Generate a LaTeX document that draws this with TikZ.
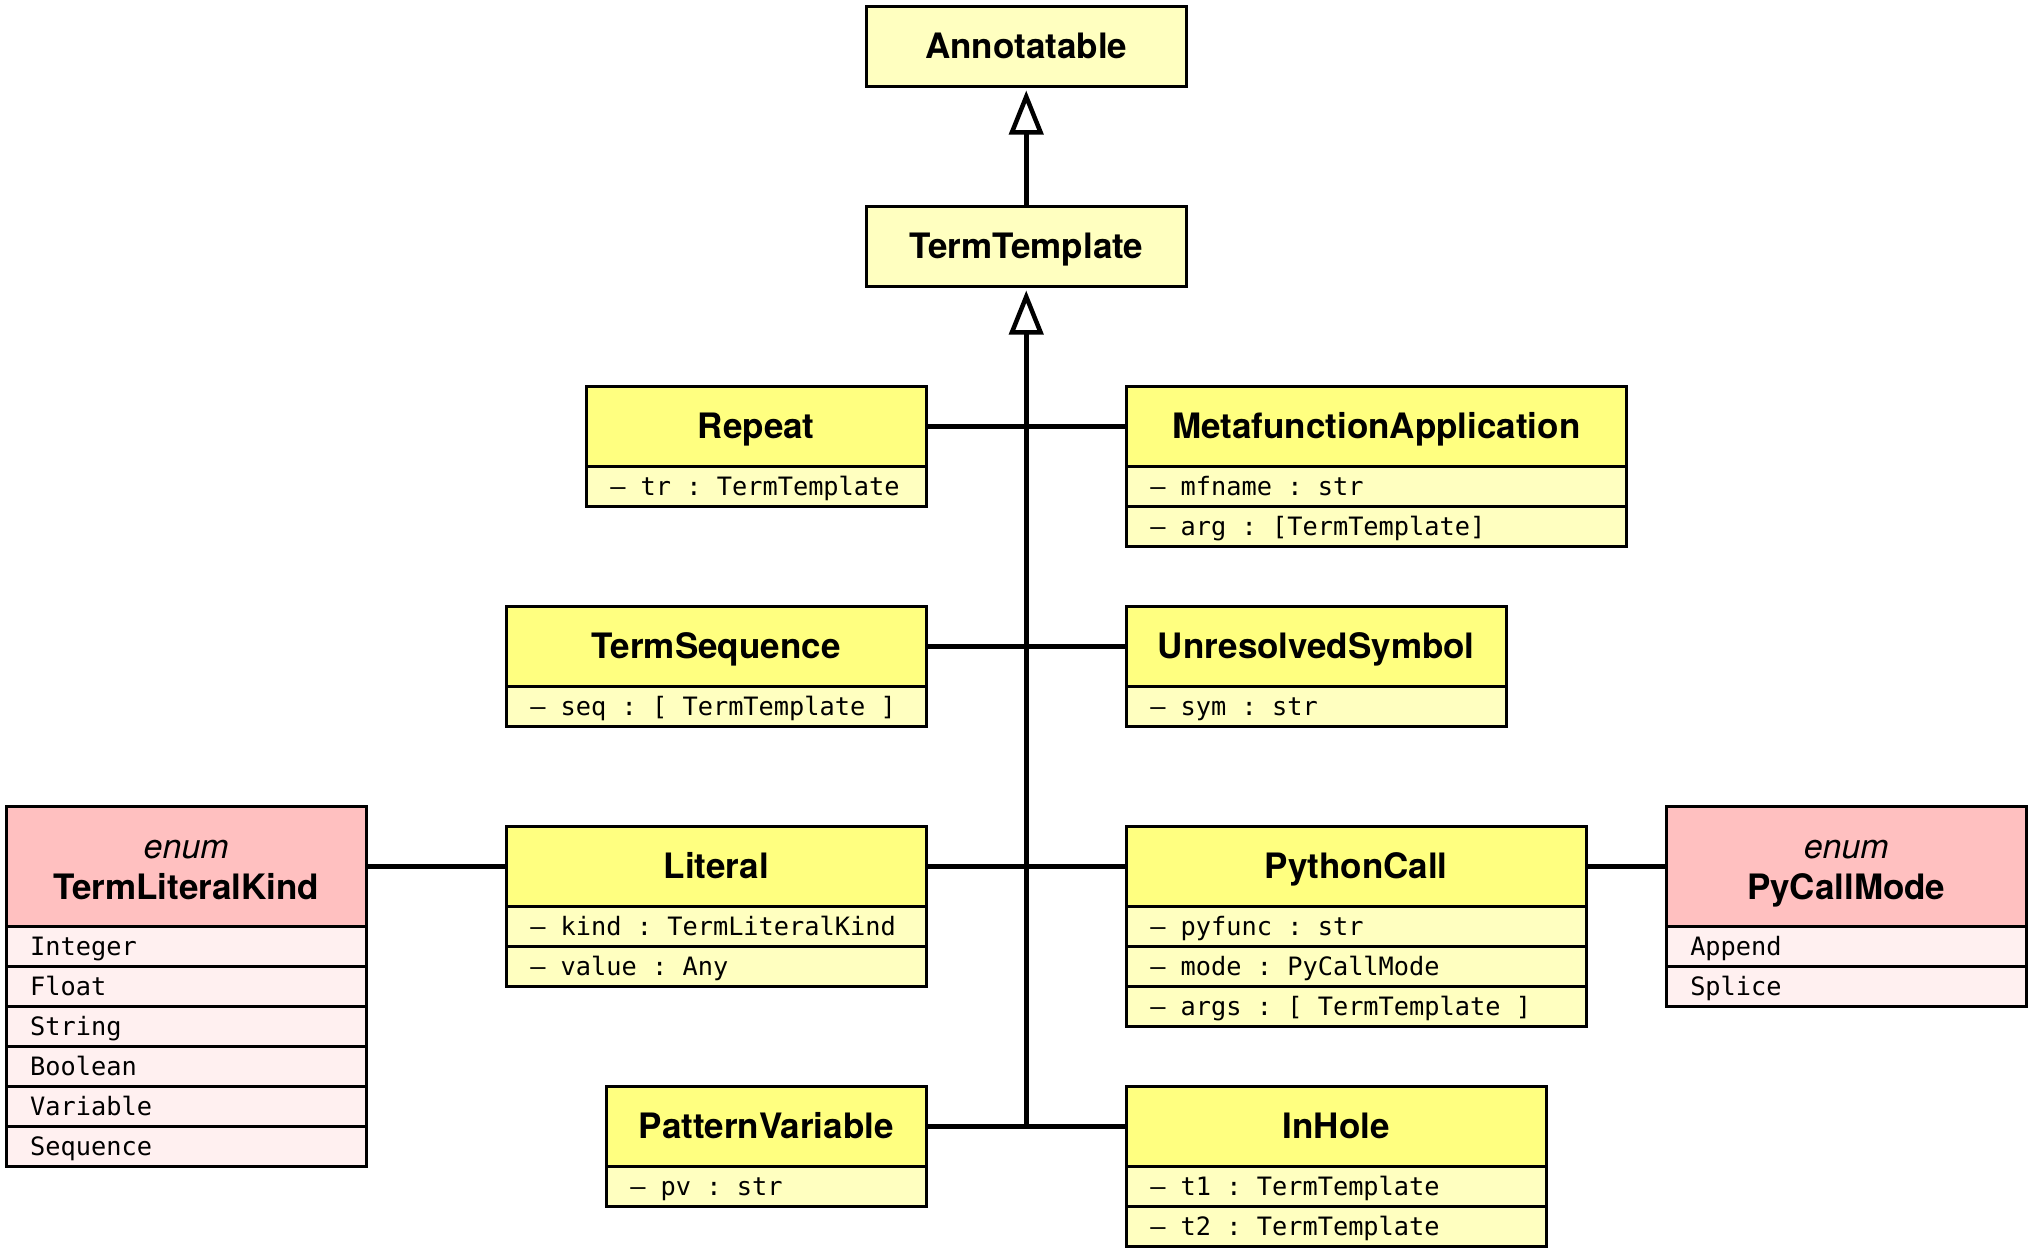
\documentclass[tikz,border=0pt]{standalone}
\usepackage{fontspec}
\setmainfont{TeX Gyre Heros}
\newfontfamily\monof{DejaVu Sans Mono}
\usetikzlibrary{arrows.meta}
\definecolor{hdry}{HTML}{FFFF80}
\definecolor{rowy}{HTML}{FFFFC0}
\definecolor{hdrp}{HTML}{FFC0C0}
\definecolor{rowp}{HTML}{FFF0F0}
\newcommand\monofont{\fontsize{25.3}{30}\selectfont\monof\frenchspacing}
\tikzset{
 box/.style={draw, line width=2.5pt, inner sep=0pt, anchor=north west, minimum width=#1},
 hdr/.style={box=#1, fill=hdry, minimum height=80pt, font=\fontsize{35}{40}\selectfont\bfseries, text height=24pt, text depth=0pt},
 basecls/.style={hdr=#1, fill=rowy},
 attr/.style={box=#1, fill=rowy, minimum height=40pt, font=\monofont, text width={#1-48pt}, inner xsep=24pt, inner ysep=0pt, align=flush left, text height=21pt, text depth=3pt},
 enumhdr/.style={box=#1, fill=hdrp, minimum height=120pt},
 enumrow/.style={attr=#1, fill=rowp},
 enumst/.style={anchor=base, font=\fontsize{34}{40}\selectfont\itshape},
 enumnm/.style={anchor=base, font=\fontsize{35}{40}\selectfont\bfseries},
 link/.style={line width=4.5pt, line cap=round},
 inh/.style={line width=4.5pt, -{Triangle[open, length=44pt, width=34pt, line width=4.5pt]}, shorten >=3pt}
}
\begin{document}
\begin{tikzpicture}[x=1pt, y=-1pt]
\fill[white] (0,0) rectangle (2030,1250);
\useasboundingbox (0,0) rectangle (2030,1250);

% top hierarchy
\node[basecls=320pt] (ann) at (865,5) {Annotatable};
\node[basecls=320pt] (tt) at (865,205) {TermTemplate};

% Repeat
\node[hdr=340pt] (rep) at (585,385) {Repeat};
\node[attr=340pt] (rep1) at (585,465) {– tr : TermTemplate};

% MetafunctionApplication
\node[hdr=500pt] (mfa) at (1125,385) {MetafunctionApplication};
\node[attr=500pt] (mfa1) at (1125,465) {– mfname : str};
\node[attr=500pt] (mfa2) at (1125,505) {– arg : [TermTemplate]};

% TermSequence
\node[hdr=420pt] (ts) at (505,605) {TermSequence};
\node[attr=420pt] (ts1) at (505,685) {– seq : [ TermTemplate ]};

% UnresolvedSymbol
\node[hdr=380pt] (us) at (1125,605) {UnresolvedSymbol};
\node[attr=380pt] (us1) at (1125,685) {– sym : str};

% Literal
\node[hdr=420pt] (lit) at (505,825) {Literal};
\node[attr=420pt] (lit1) at (505,905) {– kind : TermLiteralKind};
\node[attr=420pt] (lit2) at (505,945) {– value : Any};

% PythonCall
\node[hdr=460pt] (pc) at (1125,825) {PythonCall};
\node[attr=460pt] (pc1) at (1125,905) {– pyfunc : str};
\node[attr=460pt] (pc2) at (1125,945) {– mode : PyCallMode};
\node[attr=460pt] (pc3) at (1125,985) {– args : [ TermTemplate ]};

% TermLiteralKind enum
\node[enumhdr=360pt] (tlk) at (5,805) {};
\node[enumst] (tlkst) at ([yshift=8pt]tlk.center) {enum};
\node[enumnm] (tlknm) at ([yshift=-33pt]tlk.center) {TermLiteralKind};
\node[enumrow=360pt] (tlk1) at (5,925) {Integer};
\node[enumrow=360pt] (tlk2) at (5,965) {Float};
\node[enumrow=360pt] (tlk3) at (5,1005) {String};
\node[enumrow=360pt] (tlk4) at (5,1045) {Boolean};
\node[enumrow=360pt] (tlk5) at (5,1085) {Variable};
\node[enumrow=360pt] (tlk6) at (5,1125) {Sequence};

% PyCallMode enum
\node[enumhdr=360pt] (pcm) at (1665,805) {};
\node[enumst] (pcmst) at ([yshift=8pt]pcm.center) {enum};
\node[enumnm] (pcmnm) at ([yshift=-33pt]pcm.center) {PyCallMode};
\node[enumrow=360pt] (pcm1) at (1665,925) {Append};
\node[enumrow=360pt] (pcm2) at (1665,965) {Splice};

% PatternVariable
\node[hdr=320pt] (pv) at (605,1085) {PatternVariable};
\node[attr=320pt] (pv1) at (605,1165) {– pv : str};

% InHole
\node[hdr=420pt] (ih) at (1125,1085) {InHole};
\node[attr=420pt] (ih1) at (1125,1165) {– t1 : TermTemplate};
\node[attr=420pt] (ih2) at (1125,1205) {– t2 : TermTemplate};

% connectors
\coordinate (trunk) at (tt.south |- pv.east);
\draw[link] (rep.east) -- (mfa.west);
\draw[link] (ts.east) -- (us.west);
\draw[link] (lit.east) -- (pc.west);
\draw[link] (pv.east) -- (ih.west);
\draw[link] (tlk.east) -- (lit.west);
\draw[link] (pc.east) -- (pcm.west);
\draw[inh] (tt.north) -- (ann.south);
\draw[inh] (trunk) -- (tt.south);
\end{tikzpicture}
\end{document}
